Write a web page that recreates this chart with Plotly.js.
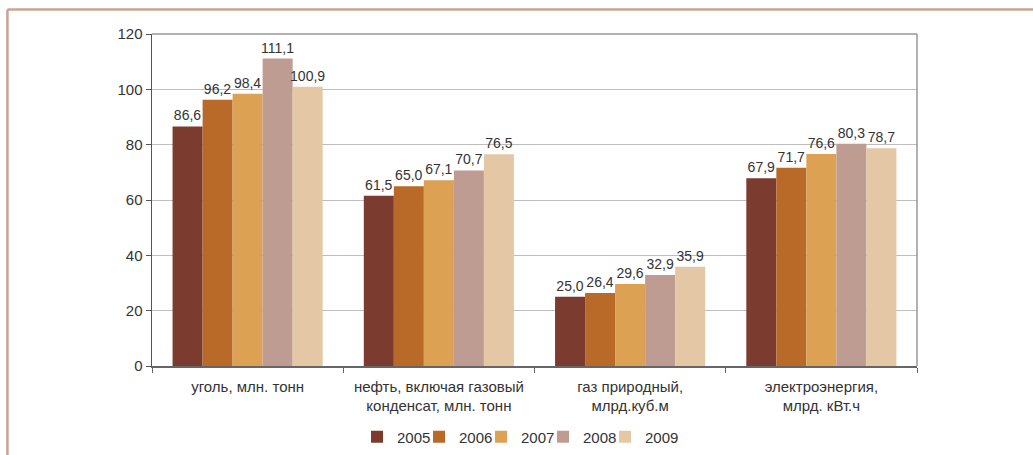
<!DOCTYPE html>
<html>
<head>
<meta charset="utf-8">
<script src="https://cdn.plot.ly/plotly-3.0.1.min.js"></script>
<style>
html,body{margin:0;padding:0;background:#fff;}
#chart{width:1033px;height:455px;}
</style>
</head>
<body>
<div id="chart"></div>
<script>
const categories = [
  "уголь, млн. тонн",
  "нефть, включая газовый<br>конденсат, млн. тонн",
  "газ природный,<br>млрд.куб.м",
  "электроэнергия,<br>млрд. кВт.ч"
];
const years = ["2005", "2006", "2007", "2008", "2009"];
const v2005 = [86.6, 61.5, 25.0, 67.9];
const v2006 = [96.2, 65.0, 26.4, 71.7];
const v2007 = [98.4, 67.1, 29.6, 76.6];
const v2008 = [111.1, 70.7, 32.9, 80.3];
const v2009 = [100.9, 76.5, 35.9, 78.7];
const seriesValues = [v2005, v2006, v2007, v2008, v2009];
const colors = ["#7B3B2F", "#B96A28", "#DCA153", "#BF9C91", "#E4C8A5"];
const yTicks = [0, 20, 40, 60, 80, 100, 120];

const font = "'Liberation Sans', Arial, sans-serif";

const traces = years.map((yr, i) => ({
  type: "bar",
  name: yr,
  x: categories,
  y: seriesValues[i],
  marker: {color: colors[i], line: {width: 0}},
  texttemplate: "%{y:.1f}",
  textposition: "outside",
  constraintext: "none",
  textfont: {family: font, size: 14, color: "#333"},
  cliponaxis: false,
  hoverinfo: "skip"
}));
// empty spacer entry so the last legend label is not clipped
traces.push({
  type: "scatter", mode: "markers", name: " ",
  x: [null], y: [null],
  marker: {opacity: 0, color: "rgba(0,0,0,0)"},
  showlegend: true, hoverinfo: "skip"
});

const layout = {
  width: 1033,
  height: 455,
  margin: {l: 152, r: 116, t: 34, b: 89, autoexpand: false},
  paper_bgcolor: "#fff",
  plot_bgcolor: "#fff",
  separators: ", ",
  barmode: "group",
  bargap: 0.215,
  bargroupgap: 0,
  font: {family: font, size: 15, color: "#333"},
  showlegend: true,
  legend: {
    orientation: "h",
    x: 0.268, xanchor: "left",
    y: -0.214, yanchor: "middle",
    font: {family: font, size: 15, color: "#333"},
    itemwidth: 30,
    entrywidth: 17,
    traceorder: "normal"
  },
  xaxis: {
    type: "category",
    showline: true,
    linecolor: "#666",
    linewidth: 1.5,
    ticks: "outside",
    tickson: "boundaries",
    ticklen: 5,
    tickcolor: "#666",
    showgrid: false,
    automargin: false,
    ticklabelstandoff: 6,
    tickfont: {family: font, size: 15, color: "#333"}
  },
  yaxis: {
    range: [0, 120],
    tickvals: yTicks,
    ticktext: yTicks.map(String),
    showline: true,
    linecolor: "#555",
    linewidth: 1.5,
    ticks: "outside",
    ticklen: 5,
    tickcolor: "#555",
    showgrid: true,
    gridcolor: "#bdbdbd",
    gridwidth: 1,
    zeroline: false,
    automargin: false,
    tickfont: {family: font, size: 15, color: "#333"}
  },
  shapes: [
    {type: "line", xref: "paper", yref: "paper", x0: 0, x1: 1, y0: 1, y1: 1,
     line: {color: "#999", width: 1.5}},
    {type: "line", xref: "paper", yref: "paper", x0: 1, x1: 1, y0: 0, y1: 1,
     line: {color: "#999", width: 1.5}},
    {type: "line", xref: "paper", yref: "paper", x0: -0.189, x1: 1.16, y0: 1.0738, y1: 1.0738,
     line: {color: "#C9A396", width: 2.5}},
    {type: "line", xref: "paper", yref: "paper", x0: -0.189, x1: -0.189, y0: -0.27, y1: 1.0738,
     line: {color: "#C9A396", width: 2.5}}
  ]
};

Plotly.newPlot("chart", traces, layout, {displayModeBar: false, staticPlot: true});
</script>
</body>
</html>
